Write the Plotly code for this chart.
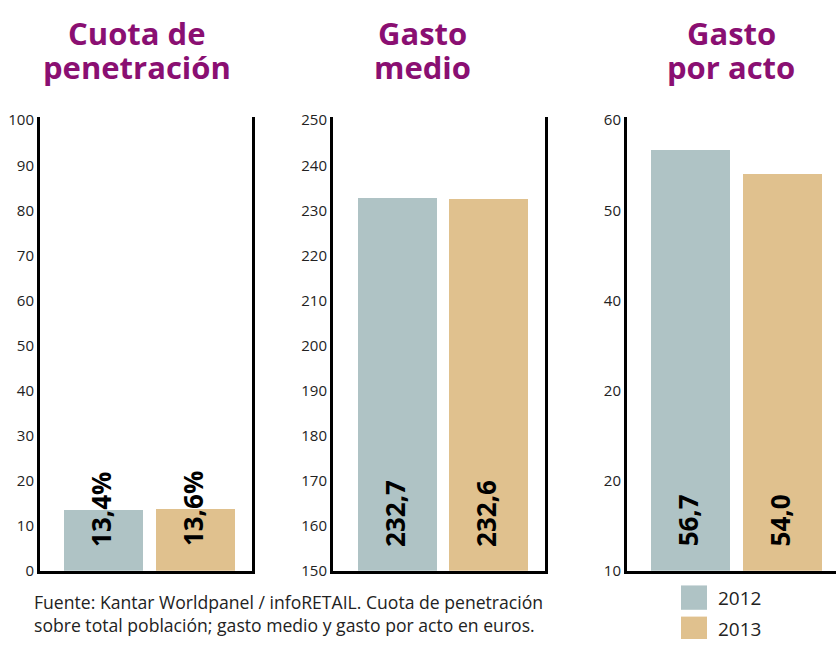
import plotly.graph_objects as go

# data
years = ["2012", "2013"]
colors = ["#afc3c5", "#e0c18e"]

titles = [["Cuota de", "penetración"], ["Gasto", "medio"], ["Gasto", "por acto"]]
cuota = [13.4, 13.6]
gasto_medio = [232.7, 232.6]
gasto_acto = [56.7, 54.0]

y_ranges = [[0, 100.7], [150, 250.7], [10, 60.35]]
tick_vals = [
    [0, 10, 20, 30, 40, 50, 60, 70, 80, 90, 100],
    [150, 160, 170, 180, 190, 200, 210, 220, 230, 240, 250],
    [10, 20, 30, 40, 50, 60],
]
# the original labels the 30 tick of the last panel as "20"
tick_text = [
    [str(v) for v in tick_vals[0]],
    [str(v) for v in tick_vals[1]],
    ["10", "20", "20", "40", "50", "60"],
]

fuente = ("Fuente: Kantar Worldpanel / infoRETAIL. Cuota de penetración<br>"
          "sobre total población; gasto medio y gasto por acto en euros.")

W, H = 836, 648
FONT = "Open Sans, Noto Sans, sans-serif"
PURPLE = "#8a0f72"

series = [cuota, gasto_medio, gasto_acto]
labels = [
    [f"{v:.1f}".replace(".", ",") + "%" for v in cuota],
    [f"{v:.1f}".replace(".", ",") for v in gasto_medio],
    [f"{v:.1f}".replace(".", ",") for v in gasto_acto],
]

x_domains = [[40 / W, 252 / W], [333 / W, 545 / W], [627 / W, 1.0]]
x_ranges = [[-0.69, 1.61], [-0.71, 1.62], [-0.69, 1.58]]
y_domain = [1 - 578 / H, 1 - 112 / H]
title_x = [137 / W, 423 / W, 731 / W]
title_line_y = [26, 61]

fig = go.Figure()
annotations = []
for i, vals in enumerate(series):
    xa = "x" if i == 0 else f"x{i + 1}"
    ya = "y" if i == 0 else f"y{i + 1}"
    fig.add_trace(go.Bar(
        x=[0, 1], y=vals, width=0.86,
        marker=dict(color=colors, line=dict(width=0)),
        xaxis=xa, yaxis=ya, showlegend=False, hoverinfo="skip",
    ))
    sfx = "" if i == 0 else str(i + 1)
    fig.layout["xaxis" + sfx] = dict(
        domain=x_domains[i], range=x_ranges[i], anchor=ya,
        showticklabels=False, showgrid=False, zeroline=False,
        showline=True, linecolor="black", linewidth=3, ticks="",
    )
    fig.layout["yaxis" + sfx] = dict(
        domain=y_domain, range=y_ranges[i], anchor=xa,
        tickvals=tick_vals[i], ticktext=tick_text[i],
        showgrid=False, zeroline=False,
        showline=True, linecolor="black", linewidth=3,
        mirror=(i < 2), ticks="",
        tickfont=dict(family=FONT, size=15, color="#222222"),
    )
    for j, txt in enumerate(labels[i]):
        annotations.append(dict(
            text=f"<b>{txt}</b>", x=j - 0.03, y=0.049,
            xref=xa, yref=ya + " domain",
            textangle=-90, showarrow=False,
            xanchor="center", yanchor="bottom",
            font=dict(family=FONT, size=26, color="black"),
        ))
    for line, ly in zip(titles[i], title_line_y):
        annotations.append(dict(
            text=f"<b>{line}</b>", x=title_x[i], y=1 - ly / H,
            xref="paper", yref="paper", xanchor="center", yanchor="middle",
            showarrow=False,
            font=dict(family=FONT, size=31, color=PURPLE),
        ))

annotations.append(dict(
    text=fuente, x=32 / W, y=0, xref="paper", yref="paper",
    xanchor="left", yanchor="bottom", align="left", showarrow=False,
    font=dict(family=FONT, size=17.6, color="#222222"),
))

# legend drawn by hand: big swatches with the year beside
shapes = []
for k, (yr, col) in enumerate(zip(years, colors)):
    top = 593 + k * 32
    shapes.append(dict(
        type="rect", xref="paper", yref="paper",
        x0=681 / W, x1=707 / W, y0=max(0, 1 - (top + 25) / H), y1=1 - top / H,
        fillcolor=col, line=dict(width=0),
    ))
    annotations.append(dict(
        text=yr, x=716 / W, y=1 - (top + 12.5) / H, xref="paper", yref="paper",
        xanchor="left", yanchor="middle", showarrow=False,
        font=dict(family=FONT, size=19, color="#222222"),
    ))

fig.update_layout(
    width=W, height=H,
    margin=dict(l=0, r=0, t=0, b=0),
    paper_bgcolor="white", plot_bgcolor="white",
    bargap=0, showlegend=False,
    annotations=annotations, shapes=shapes,
)

# drop the default body margin so the figure fills the window exactly
fix_page = (
    "var h=document.documentElement, b=document.body;"
    "h.style.margin=b.style.margin='0';"
    "h.style.overflow=b.style.overflow='hidden';"
)
fig.write_html("out.html", config={"displayModeBar": False}, post_script=fix_page)
